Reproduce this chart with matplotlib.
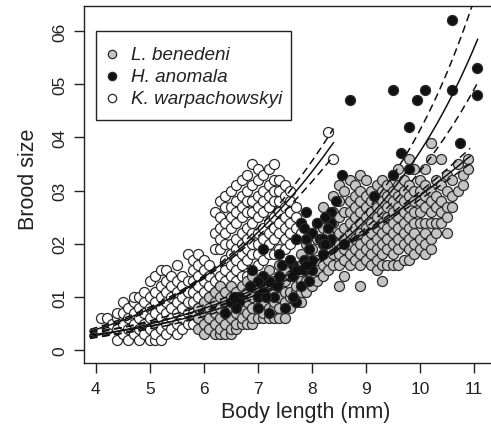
import numpy as np
import matplotlib
matplotlib.use("Agg")
import matplotlib.pyplot as plt
from matplotlib.patches import Rectangle
from matplotlib.lines import Line2D

plt.rcParams['font.family'] = ['Liberation Sans', 'DejaVu Sans']

# Brood size by body length (mm), grouped by length
kw_cols = {  # K. warpachowskyi
    4.1: [6], 4.2: [4, 6], 4.3: [5], 4.4: [2, 4, 6, 7], 4.5: [3, 5, 7, 9],
    4.6: [2, 4, 6, 8], 4.7: [3, 5, 7, 9, 10], 4.8: [2, 4, 6, 8, 10],
    4.9: [3, 5, 7, 9, 11], 5.0: [2, 4, 6, 8, 10, 13], 5.1: [2, 3, 5, 7, 9, 11, 14],
    5.2: [2, 4, 6, 8, 10, 12, 15], 5.3: [3, 5, 7, 9, 11, 13, 15],
    5.4: [4, 6, 8, 10, 12, 14], 5.5: [3, 5, 7, 9, 11, 13, 16],
    5.6: [4, 6, 8, 10, 12, 14], 5.7: [5, 7, 9, 11, 13, 18],
    5.8: [5, 7, 9, 11, 13, 15, 17], 5.9: [6, 8, 10, 12, 14, 16, 18],
    6.0: [7, 9, 11, 13, 15, 17], 6.1: [8, 10, 12, 14, 16],
    6.2: [9, 11, 13, 19, 22, 26], 6.3: [10, 12, 14, 19, 21, 23, 25, 28],
    6.4: [11, 13, 15, 17, 20, 22, 24, 27, 29], 6.5: [12, 14, 16, 18, 20, 23, 25, 27, 30],
    6.6: [13, 15, 17, 19, 21, 24, 26, 28, 31], 6.7: [14, 16, 18, 20, 22, 25, 27, 29, 32],
    6.8: [14, 17, 19, 21, 23, 26, 28, 30, 33], 6.9: [15, 18, 20, 22, 24, 26, 28, 31, 35],
    7.0: [16, 18, 20, 22, 25, 27, 29, 32, 34], 7.1: [17, 19, 21, 23, 26, 28, 30, 33],
    7.2: [18, 20, 22, 24, 27, 29, 31, 34], 7.3: [18, 21, 23, 25, 28, 30, 32, 35],
    7.4: [19, 22, 24, 26, 28, 30, 32], 7.5: [19, 21, 23, 25, 27, 29, 31],
    7.6: [20, 22, 24, 26, 28, 30], 7.7: [21, 23, 25, 27], 7.8: [22, 24],
    8.3: [41], 8.4: [36],
}

lb_cols = {  # L. benedeni
    5.9: [4, 6, 8], 6.0: [3, 5, 7, 9], 6.1: [4, 6, 8, 10], 6.2: [3, 5, 7, 9, 11],
    6.3: [3, 4, 6, 8, 10, 12], 6.4: [3, 5, 7, 9, 11], 6.5: [3, 4, 6, 8, 10, 12],
    6.6: [4, 5, 7, 9, 11], 6.7: [5, 6, 8, 10, 12], 6.8: [5, 7, 9, 11, 13],
    6.9: [5, 6, 8, 10, 12, 14], 7.0: [6, 8, 10, 13], 7.1: [6, 7, 9, 11, 14],
    7.2: [6, 8, 10, 12, 15], 7.3: [6, 8, 9, 11, 13], 7.4: [6, 8, 10, 12, 14, 16],
    7.5: [6, 9, 11, 13, 15], 7.6: [8, 10, 11, 14, 17], 7.7: [9, 11, 12, 15],
    7.8: [9, 11, 13, 16, 18], 7.9: [11, 13, 15, 17, 20], 8.0: [12, 14, 16, 19, 22],
    8.1: [13, 15, 17, 21, 24], 8.2: [14, 16, 18, 20, 23, 27], 8.3: [15, 17, 19, 22, 25],
    8.4: [16, 18, 21, 24, 26, 29], 8.5: [12, 16, 18, 20, 22, 25, 28, 31],
    8.6: [14, 17, 19, 21, 23, 26, 30], 8.7: [16, 18, 20, 22, 24, 26, 28, 32],
    8.8: [17, 19, 21, 23, 25, 27, 29, 31], 8.9: [12, 16, 18, 20, 22, 24, 26, 28, 30, 33],
    9.0: [17, 19, 21, 23, 25, 27, 29, 32], 9.1: [16, 18, 20, 22, 24, 26, 28, 30],
    9.2: [15, 17, 19, 21, 23, 25, 27, 29, 31], 9.3: [13, 16, 18, 20, 22, 24, 26, 28, 30, 32],
    9.4: [16, 19, 21, 23, 25, 27, 29, 31], 9.5: [16, 18, 20, 22, 24, 26, 28, 30, 33],
    9.6: [16, 19, 21, 23, 25, 27, 29, 31, 34], 9.7: [17, 20, 22, 24, 26, 28, 30, 32],
    9.8: [17, 19, 21, 23, 25, 27, 29, 31, 36], 9.9: [18, 20, 22, 24, 26, 28, 30, 34],
    10.0: [19, 21, 24, 26, 28, 30, 32], 10.1: [18, 20, 22, 24, 27, 29, 31, 34],
    10.2: [19, 21, 24, 26, 28, 30, 36, 39], 10.3: [22, 24, 27, 29, 32],
    10.4: [24, 26, 28, 31, 36], 10.5: [22, 25, 27, 30, 33], 10.6: [27, 29, 32],
    10.7: [30, 35], 10.8: [31, 33], 10.9: [34, 36],
}

# H. anomala
ha_length = [10.6, 11.05, 9.5, 10.1, 10.6, 9.95, 11.05, 9.8, 9.65, 10.75, 9.8, 9.5,
             8.7, 9.15, 8.55, 8.45, 8.35, 8.35, 8.6, 8.35, 8.25, 7.9, 8.1, 7.8, 8.0,
             8.15, 7.9, 8.3, 8.2, 7.85, 7.7, 7.95, 8.2, 8.2, 8.0, 7.85, 7.65, 7.85, 8.0,
             7.65, 7.4, 7.2, 7.05, 7.1, 7.35, 7.8, 7.7, 8.25, 7.9, 7.95, 7.45, 7.6, 7.7,
             6.9, 7.1, 7.0, 6.85, 7.1, 7.3, 7.0, 6.65, 7.15, 7.65, 6.5, 6.55, 7.1, 7.4,
             6.65, 6.4, 6.6, 7.0, 7.2, 7.5]
ha_brood = [62, 53, 49, 49, 49, 47, 48, 42, 37, 39, 34, 33,
            47, 29, 33, 28, 26, 24, 20, 21, 25, 26, 24, 24, 22,
            21, 21, 23, 21, 23, 21, 19, 20, 18, 17, 17, 16, 15, 15,
            14, 14, 13, 13, 11, 12, 12, 9, 20, 16, 13, 16, 17, 15,
            15, 14, 13, 12, 11, 10, 10, 10, 10, 10, 9, 10, 19, 18,
            9, 7, 8, 8, 7, 8]

species = ["L. benedeni", "H. anomala", "K. warpachowskyi"]
fills = {"L. benedeni": "#c4c4c4", "H. anomala": "#111111", "K. warpachowskyi": "white"}

# Fitted curves: power law for K. warpachowskyi and L. benedeni,
# exponential for H. anomala; confidence bands as log-scale half-widths
fit_kind = {"K. warpachowskyi": "power", "L. benedeni": "power", "H. anomala": "exp"}
fit_a = {"K. warpachowskyi": 0.0532, "L. benedeni": 0.080, "H. anomala": 0.559}
fit_b = {"K. warpachowskyi": 3.1, "L. benedeni": 2.56, "H. anomala": 0.42}
fit_range = {"K. warpachowskyi": (3.89, 8.4), "L. benedeni": (3.89, 10.93),
             "H. anomala": (3.89, 11.07)}
ci_c = {"K. warpachowskyi": 0.187, "L. benedeni": 0.19, "H. anomala": 0.045}
ci_d0 = {"K. warpachowskyi": 0.107, "L. benedeni": 0.079, "H. anomala": 0.67}
ci_centre = {"K. warpachowskyi": 6.0, "L. benedeni": 9.0, "H. anomala": 7.8}


def flatten(cols):
    xs, ys = [], []
    for length, broods in cols.items():
        xs += [length] * len(broods)
        ys += broods
    return np.array(xs), np.array(ys)


W, H = 491, 431
fig = plt.figure(figsize=(W / 100, H / 100), dpi=100)
# plotting region runs past the right edge of the canvas
ax = fig.add_axes([84 / W, 67 / H, 446 / W, 357 / H])

edge = "#2a2a2a"
ms = 52
x, y = flatten(kw_cols)
ax.scatter(x, y, s=ms, facecolor=fills["K. warpachowskyi"], edgecolor=edge,
           linewidth=0.9, zorder=2)
x, y = flatten(lb_cols)
ax.scatter(x, y, s=ms, facecolor=fills["L. benedeni"], edgecolor=edge,
           linewidth=0.9, zorder=3)
ax.scatter(ha_length, ha_brood, s=ms, facecolor=fills["H. anomala"], edgecolor=edge,
           linewidth=0.9, zorder=4)

for sp in ["K. warpachowskyi", "L. benedeni", "H. anomala"]:
    L = np.linspace(*fit_range[sp], 200)
    if fit_kind[sp] == "power":
        B = fit_a[sp] * L ** fit_b[sp]
        dist = np.log(L) - np.log(ci_centre[sp])
    else:
        B = fit_a[sp] * np.exp(fit_b[sp] * L)
        dist = L - ci_centre[sp]
    w = ci_c[sp] * np.sqrt(ci_d0[sp] ** 2 + dist ** 2)
    ax.plot(L, B, color="#111111", lw=1.1, zorder=5)
    for sign in (1, -1):
        ln, = ax.plot(L, B * np.exp(sign * w), color="#111111", lw=1.1, zorder=5)
        ln.set_dashes((5, 3))

ax.set_xlim(3.78, 12.04)
ax.set_ylim(-2.4, 64.7)
ax.set_xticks(range(4, 12))
ax.set_yticks(range(0, 61, 10))
ax.set_yticklabels(["0", "01", "02", "03", "04", "05", "06"], rotation=90, va="center")
ax.tick_params(axis="both", direction="out", length=7, width=1, labelsize=12.5,
               colors="#222222")
ax.tick_params(axis="x", pad=6)
ax.tick_params(axis="y", pad=5)
for s in ax.spines.values():
    s.set_linewidth(1)
    s.set_color("#222222")

ax.set_xlabel("Body length (mm)", fontsize=15.5, color="#222222")
ax.xaxis.set_label_coords((306 - 84) / 446, -(413 - 364) / 357)
ax.set_ylabel("Brood size", fontsize=15.5, color="#222222")
ax.yaxis.set_label_coords(-(84 - 29) / 446, (364 - 179) / 357)
ax.xaxis.label.set_va("center")
ax.yaxis.label.set_va("center")


# legend box drawn in pixel coordinates of the canvas
def px(xp, yp):
    return xp / W, 1 - yp / H


x0, y0 = px(96, 121)
fig.patches.append(Rectangle((x0, y0), (291 - 96) / W, (121 - 32) / H,
                             transform=fig.transFigure, facecolor="white",
                             edgecolor="#222222", linewidth=1, zorder=10))
for i, sp in enumerate(species):
    yrow = 55 + 22 * i
    fig.add_artist(Line2D([112 / W], [1 - yrow / H], ls="", marker="o", markersize=6,
                          markerfacecolor=fills[sp], markeredgecolor=edge,
                          markeredgewidth=0.9, transform=fig.transFigure, zorder=11))
    fig.text(131 / W, 1 - yrow / H, sp, fontsize=13.6, style="italic", color="#222222",
             va="center", ha="left", zorder=11)

fig.savefig("out.png", dpi=100)
